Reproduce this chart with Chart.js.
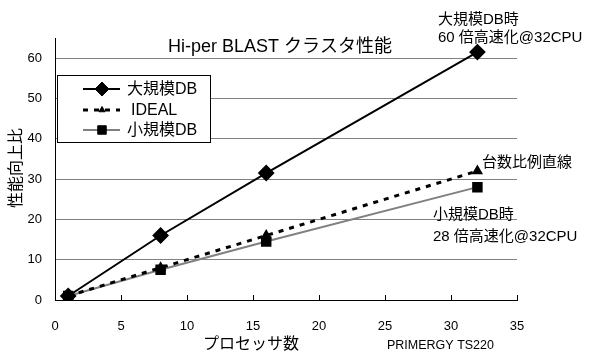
<!DOCTYPE html>
<html>
<head>
<meta charset="utf-8">
<script src="https://cdn.jsdelivr.net/npm/chart.js@4"></script>
<style>
  html, body { margin: 0; padding: 0; background: #fff; }
  #wrap { width: 590px; height: 356px; }
</style>
</head>
<body>
<div id="wrap"><canvas id="perfChart" width="590" height="356"></canvas></div>
<script>
// Processor counts and speed-up ratios
var processors = [1, 8, 16, 32];
var largeDb = [1, 16, 31.5, 61.5];
var ideal = [1, 8, 16, 32];
var smallDb = [1, 7.5, 14.5, 28];
var xTicks = [0, 5, 10, 15, 20, 25, 30, 35];
var yTicks = [0, 10, 20, 30, 40, 50, 60];

var seriesLabels = ['大規模DB', 'IDEAL', '小規模DB'];

var JP = '"Liberation Sans", "Noto Sans CJK JP", sans-serif';
var NUM = '"Liberation Sans", Arial, sans-serif';

function toPoints(values) {
    return processors.map(function (p, i) { return { x: p, y: values[i] }; });
}

// Draws title, notes, axis titles and the boxed legend
var textPlugin = {
    id: 'textPlugin',
    afterDraw: function (chart) {
        var ctx = chart.ctx;
        var area = chart.chartArea;
        var xs = chart.scales.x;
        ctx.save();

        // small inward tick marks on the x axis
        ctx.strokeStyle = '#000';
        ctx.lineWidth = 1;
        xTicks.forEach(function (t) {
            var px = Math.round(xs.getPixelForValue(t)) + 0.5;
            ctx.beginPath();
            ctx.moveTo(px, area.bottom);
            ctx.lineTo(px, area.bottom - 5);
            ctx.stroke();
        });

        ctx.fillStyle = '#000';
        ctx.textBaseline = 'middle';
        ctx.textAlign = 'left';
        ctx.font = '18px ' + JP;
        ctx.fillText('Hi-per BLAST クラスタ性能', 168, 47);

        ctx.font = '15px ' + JP;
        ctx.fillText('大規模DB時', 438, 20);
        ctx.fillText('60 倍高速化@32CPU', 438, 38);
        ctx.fillText('台数比例直線', 482, 163);
        ctx.fillText('小規模DB時', 433, 215);
        ctx.fillText('28 倍高速化@32CPU', 433, 237);

        ctx.font = '12.5px ' + NUM;
        ctx.fillText('PRIMERGY TS220', 387, 346);

        ctx.font = '16px ' + JP;
        ctx.textAlign = 'center';
        ctx.fillText('プロセッサ数', 251, 345);

        ctx.save();
        ctx.translate(17, 168);
        ctx.rotate(-Math.PI / 2);
        ctx.fillText('性能向上比', 0, 0);
        ctx.restore();

        // legend box
        ctx.fillStyle = '#fff';
        ctx.fillRect(57, 75, 154, 68);
        ctx.strokeStyle = '#000';
        ctx.lineWidth = 1;
        ctx.strokeRect(57.5, 75.5, 153, 67);

        var rows = [89, 110, 130];
        chart.data.datasets.forEach(function (ds, i) {
            var y = rows[i];
            ctx.save();
            ctx.strokeStyle = ds.borderColor;
            ctx.lineWidth = ds.borderWidth;
            ctx.setLineDash(ds.borderDash || []);
            ctx.beginPath();
            ctx.moveTo(83, y);
            ctx.lineTo(120, y);
            ctx.stroke();
            ctx.restore();
            ctx.fillStyle = '#000';
            ctx.strokeStyle = '#000';
            Chart.helpers.drawPoint(ctx, {
                pointStyle: ds.pointStyle,
                radius: ds.pointRadius,
                borderWidth: 1
            }, 102, y);
            ctx.fillStyle = '#000';
            ctx.textAlign = 'left';
            ctx.font = '16px ' + JP;
            ctx.fillText(ds.label, i === 1 ? 131 : 127, y + 1);
        });
        ctx.restore();
    }
};

var ctx = document.getElementById('perfChart').getContext('2d');

new Chart(ctx, {
    type: 'line',
    data: {
        datasets: [{
            label: seriesLabels[0],
            data: toPoints(largeDb),
            borderColor: '#000',
            backgroundColor: '#000',
            pointBorderColor: '#000',
            borderWidth: 2,
            pointStyle: 'rectRot',
            pointRadius: 7
        }, {
            label: seriesLabels[1],
            data: toPoints(ideal),
            borderColor: '#000',
            backgroundColor: '#000',
            pointBorderColor: '#000',
            borderWidth: 3,
            borderDash: [5, 6],
            pointStyle: 'triangle',
            pointRadius: 3.5
        }, {
            label: seriesLabels[2],
            data: toPoints(smallDb),
            borderColor: '#808080',
            backgroundColor: '#000',
            pointBorderColor: '#000',
            borderWidth: 2,
            pointStyle: 'rect',
            pointRadius: 6
        }]
    },
    options: {
        responsive: false,
        animation: false,
        layout: { padding: { left: 0, right: 73, top: 38, bottom: 0 } },
        plugins: {
            legend: { display: false },
            tooltip: { enabled: false }
        },
        scales: {
            x: {
                type: 'linear',
                min: 0,
                max: 35,
                afterBuildTicks: function (s) {
                    s.ticks = xTicks.map(function (v) { return { value: v }; });
                },
                afterFit: function (s) { s.height = 56; },
                grid: { display: false, drawTicks: false },
                border: { display: true, color: '#000', width: 1 },
                ticks: { color: '#000', padding: 19, font: { size: 13, family: NUM } }
            },
            y: {
                min: 0,
                max: 65,
                afterBuildTicks: function (s) {
                    s.ticks = yTicks.map(function (v) { return { value: v }; });
                },
                afterFit: function (s) { s.width = 55; },
                grid: { color: '#808080', lineWidth: 1, drawTicks: false },
                border: { display: true, color: '#000', width: 1 },
                ticks: { color: '#000', padding: 13, font: { size: 13, family: NUM } }
            }
        }
    },
    plugins: [textPlugin]
});
</script>
</body>
</html>
